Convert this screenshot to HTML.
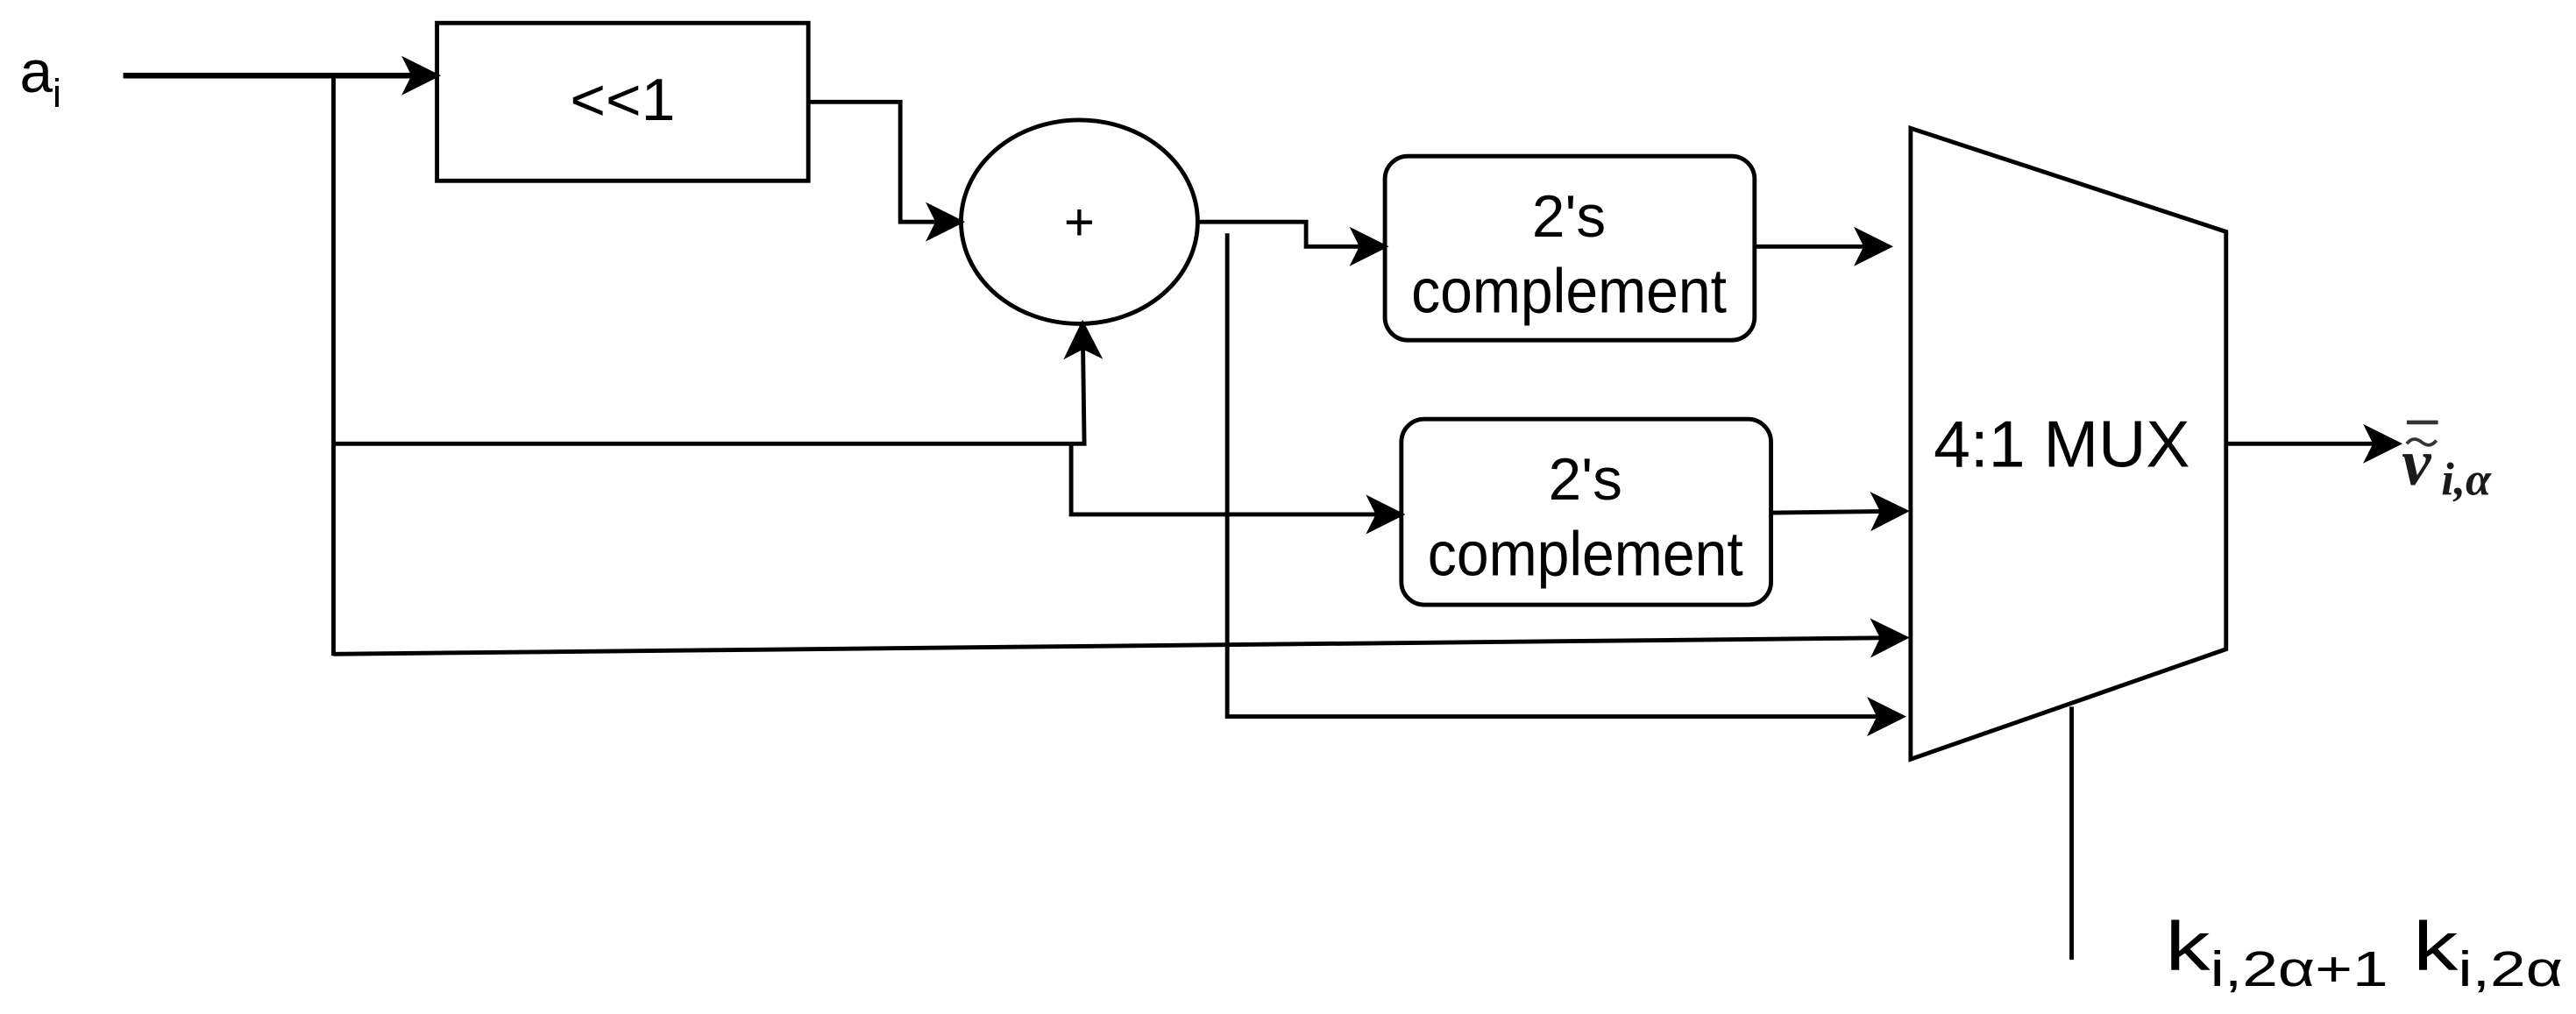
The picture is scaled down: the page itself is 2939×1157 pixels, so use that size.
<!DOCTYPE html>
<html><head><meta charset="utf-8"><style>html,body{margin:0;padding:0;background:#fff;}svg{display:block}</style></head>
<body>
<svg width="2939" height="1157" viewBox="0 0 1568 617" preserveAspectRatio="none" xmlns="http://www.w3.org/2000/svg" font-family="Liberation Sans, sans-serif">
<defs>
<marker id="a" viewBox="0 0 20 20" refX="18" refY="10" markerWidth="26" markerHeight="24" markerUnits="userSpaceOnUse" orient="auto">
<path d="M0,0 L20,10 L0,20 L5,10 Z" fill="#000"/>
</marker>
</defs>
<g stroke="#000" stroke-width="2.6" fill="none">
<line x1="75" y1="46" x2="266" y2="46" stroke-width="3.5" marker-end="url(#a)"/>
<rect x="266" y="14" width="226" height="96"/>
<line x1="203" y1="46" x2="203" y2="399"/>
<polyline points="492,62 548,62 548,135 585,135" marker-end="url(#a)"/>
<ellipse cx="657" cy="135" rx="72" ry="62"/>
<polyline points="730,135 795,135 795,150 843,150" marker-end="url(#a)"/>
<rect x="843" y="95" width="225" height="112" rx="14"/>
<line x1="1068" y1="150" x2="1150" y2="150" marker-end="url(#a)"/>
<polyline points="203,270 660,270 659,197" marker-end="url(#a)"/>
<polyline points="652,270 652,313 853,313" marker-end="url(#a)"/>
<rect x="853" y="255" width="225" height="113" rx="14"/>
<line x1="1078" y1="312" x2="1160" y2="311" marker-end="url(#a)"/>
<line x1="203" y1="398" x2="1160" y2="388" marker-end="url(#a)"/>
<polyline points="747,142 747,436 1158,436" marker-end="url(#a)"/>
<polygon points="1163,78 1355,141 1355,395 1163,462"/>
<line x1="1355" y1="270" x2="1460" y2="270" marker-end="url(#a)"/>
<line x1="1261" y1="430" x2="1261" y2="584"/>
</g>
<g fill="#000" font-size="36" text-anchor="middle">
<text x="379" y="73" font-size="36" textLength="64" lengthAdjust="spacingAndGlyphs">&lt;&lt;1</text>
<text x="657" y="146" font-size="32">+</text>
<text x="955" y="144">2's</text>
<text x="955" y="190" font-size="38" textLength="192" lengthAdjust="spacingAndGlyphs">complement</text>
<text x="965" y="304">2's</text>
<text x="965" y="350" font-size="38" textLength="192" lengthAdjust="spacingAndGlyphs">complement</text>
<text x="1255" y="284" font-size="40" textLength="156" lengthAdjust="spacingAndGlyphs">4:1 MUX</text>
</g>
<text x="12" y="56" font-size="36">a<tspan font-size="24" dy="9">i</tspan></text>
<text x="1318" y="590" font-size="42" textLength="242" lengthAdjust="spacingAndGlyphs">k<tspan font-size="30" dy="10">i,2α+1</tspan><tspan dy="-10"> k</tspan><tspan font-size="30" dy="10">i,2α</tspan></text>
<g font-family="Liberation Serif, serif" font-style="italic" font-weight="bold" fill="#1a1a1a">
<line x1="1465" y1="257" x2="1484" y2="257" stroke="#333" stroke-width="2.5"/>
<path d="M1465,270 q4,-5 9,-1 q5,4 9,-1" stroke="#333" stroke-width="2" fill="none"/>
<text x="1462" y="295" font-size="40">v</text>
<text x="1486" y="301" font-size="28">i,α</text>
</g>
</svg>
</body></html>
